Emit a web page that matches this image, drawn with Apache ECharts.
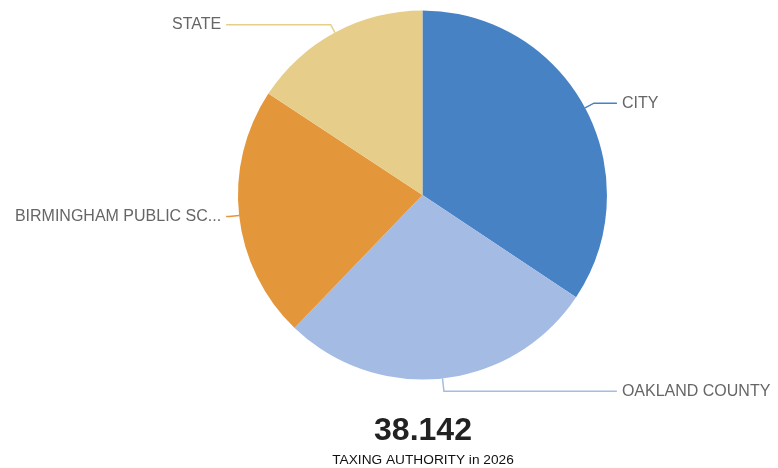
<!DOCTYPE html>
<html>
<head>
<meta charset="utf-8">
<style>
  html, body { margin: 0; padding: 0; background: #fff; }
  #chart { width: 778px; height: 468px; }
</style>
<script src="https://cdn.jsdelivr.net/npm/echarts@6/dist/echarts.min.js"></script>
</head>
<body>
<div id="chart"></div>
<script>
// Millage by taxing authority
const authorities = ['CITY', 'OAKLAND COUNTY', 'BIRMINGHAM PUBLIC SCHOOLS', 'STATE'];
const millage = [13.1, 10.62, 8.422, 6.0];
const sliceColors = ['#4682C4', '#A4BBE4', '#E4963A', '#E6CE8A'];
const subtitle = 'TAXING AUTHORITY in 2026';

// label-line segment lengths per slice: radial part, then horizontal run
const lineOut = [10, 13, 10, 9];
const lineRun = [23, 10, 3, 3];

const total = millage.reduce((a, b) => a + b, 0);

const chart = echarts.init(document.getElementById('chart'), null, { renderer: 'canvas' });

chart.setOption({
  animation: false,
  title: {
    text: total.toFixed(3),
    subtext: subtitle,
    left: 418,
    textAlign: 'center',
    top: 410,
    itemGap: 6,
    textStyle: { fontFamily: 'Arial, Liberation Sans, sans-serif', fontSize: 32, fontWeight: 'bold', color: '#222' },
    subtextStyle: { fontFamily: 'Arial, Liberation Sans, sans-serif', fontSize: 13.7, color: '#111' }
  },
  series: [{
    type: 'pie',
    center: ['54.3%', 195],
    radius: 184.5,
    startAngle: 90,
    clockwise: true,
    avoidLabelOverlap: true,
    label: {
      show: true,
      position: 'outer',
      alignTo: 'labelLine',
      distanceToLabelLine: 5,
      bleedMargin: 6,
      overflow: 'truncate',
      ellipsis: '...',
      fontFamily: 'Arial, Liberation Sans, sans-serif',
      fontSize: 16,
      color: '#666'
    },
    labelLine: {
      show: true,
      length: 10,
      length2: 10,
      smooth: false,
      lineStyle: { width: 1.5 }
    },
    itemStyle: { borderWidth: 0 },
    emphasis: { disabled: true },
    data: authorities.map((name, i) => ({
      name: name,
      value: millage[i],
      itemStyle: { color: sliceColors[i] },
      labelLine: { length: lineOut[i], length2: lineRun[i], lineStyle: { color: sliceColors[i] } }
    }))
  }]
});
</script>
</body>
</html>
